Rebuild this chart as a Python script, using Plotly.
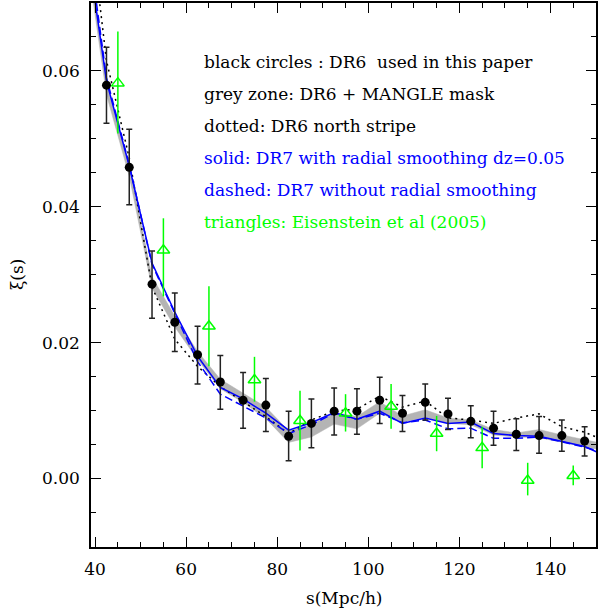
import plotly.graph_objects as go

# Separation bins (Mpc/h) for the DR6 / DR7 measurements
s_bins = [37.5, 42.5, 47.5, 52.5, 57.5, 62.5, 67.5, 72.5, 77.5, 82.5, 87.5, 92.5,
          97.5, 102.5, 107.5, 112.5, 117.5, 122.5, 127.5, 132.5, 137.5, 142.5,
          147.5, 152.5]

# DR6 + MANGLE mask: lower / upper edge of the grey zone
grey_lo = [0.0800, 0.0565, 0.0445, 0.0280, 0.0223, 0.0175, 0.0132, 0.0112, 0.0088,
           0.0053, 0.0061, 0.0080, 0.0073, 0.0096, 0.0082, 0.0090, 0.0081, 0.0079,
           0.0064, 0.0061, 0.0060, 0.0054, 0.0047, 0.0040]
grey_hi = [0.0830, 0.0585, 0.0462, 0.0297, 0.0239, 0.0187, 0.0146, 0.0126, 0.0105,
           0.0070, 0.0079, 0.0097, 0.0091, 0.0113, 0.0092, 0.0101, 0.0089, 0.0086,
           0.0072, 0.0067, 0.0072, 0.0064, 0.0057, 0.0050]

# DR6 north stripe (dotted)
xi_north = [0.0900, 0.0615, 0.0472, 0.0282, 0.0205, 0.0165, 0.0135, 0.0113, 0.0091,
            0.0066, 0.0086, 0.0099, 0.0102, 0.0121, 0.0105, 0.0114, 0.0089, 0.0086,
            0.0081, 0.0089, 0.0095, 0.0076, 0.0068, 0.0054]

# DR7 with radial smoothing dz=0.05 (solid)
xi_dr7_smooth = [0.0820, 0.0585, 0.0460, 0.0317, 0.0245, 0.0180, 0.0134, 0.0117,
                 0.0096, 0.0071, 0.0082, 0.0097, 0.0087, 0.0099, 0.0081, 0.0089,
                 0.0081, 0.0083, 0.0066, 0.0063, 0.0062, 0.0054, 0.0047, 0.0032]

# DR7 without radial smoothing (dashed)
xi_dr7_raw = [0.0840, 0.0590, 0.0462, 0.0315, 0.0243, 0.0172, 0.0124, 0.0106,
              0.0089, 0.0066, 0.0079, 0.0096, 0.0087, 0.0096, 0.0082, 0.0086,
              0.0073, 0.0074, 0.0059, 0.0059, 0.0061, 0.0054, 0.0046, 0.0036]

# DR6 points used in this paper (black circles) with error bar ends
s_dr6 = [42.5, 47.5, 52.5, 57.5, 62.5, 67.5, 72.5, 77.5, 82.5, 87.5, 92.5, 97.5,
         102.5, 107.5, 112.5, 117.5, 122.5, 127.5, 132.5, 137.5, 142.5, 147.5]
xi_dr6 = [0.0579, 0.0458, 0.0286, 0.0230, 0.0182, 0.0142, 0.0115, 0.0108, 0.0062,
          0.0081, 0.0099, 0.0099, 0.0115, 0.0096, 0.0112, 0.0095, 0.0084, 0.0074,
          0.0065, 0.0063, 0.0063, 0.0055]
xi_dr6_top = [0.0635, 0.0514, 0.0335, 0.0273, 0.0224, 0.0181, 0.0156, 0.0147, 0.0099,
              0.0117, 0.0133, 0.0132, 0.0149, 0.0122, 0.0139, 0.0118, 0.0107, 0.0099,
              0.0088, 0.0091, 0.0086, 0.0076]
xi_dr6_bot = [0.0523, 0.0403, 0.0236, 0.0187, 0.0139, 0.0102, 0.0074, 0.0069, 0.0026,
              0.0045, 0.0064, 0.0065, 0.0081, 0.0069, 0.0086, 0.0072, 0.0060, 0.0049,
              0.0041, 0.0037, 0.0040, 0.0033]

# Eisenstein et al (2005) (green triangles)
s_eis = [45, 55, 65, 75, 85, 95, 105, 115, 125, 135, 145]
xi_eis = [0.0582, 0.0336, 0.0224, 0.0145, 0.0085, 0.0096, 0.0106, 0.0066, 0.0045,
          -0.0003, 0.0004]
xi_eis_top = [0.0658, 0.0383, 0.0283, 0.0179, 0.0129, 0.0124, 0.0139, 0.0092, 0.0076,
              0.0023, 0.0019]
xi_eis_bot = [0.0508, 0.0268, 0.0165, 0.0113, 0.0041, 0.0069, 0.0073, 0.0040, 0.0015,
              -0.0025, -0.0010]

x_ticks = [40, 60, 80, 100, 120, 140]
y_ticks = [0.00, 0.02, 0.04, 0.06]
y_tick_text = ["0.00", "0.02", "0.04", "0.06"]

legend_lines = [
    ("black circles : DR6  used in this paper", "black"),
    ("grey zone: DR6 + MANGLE mask", "black"),
    ("dotted: DR6 north stripe", "black"),
    ("solid: DR7 with radial smoothing dz=0.05", "#0000ff"),
    ("dashed: DR7 without radial smoothing", "#0000ff"),
    ("triangles: Eisenstein et al (2005)", "#00ff00"),
]

FONT = "DejaVu Serif"

fig = go.Figure()

# grey zone as a closed polygon: upper edge forward, lower edge back
fig.add_trace(go.Scatter(
    x=s_bins + s_bins[::-1], y=grey_hi + grey_lo[::-1],
    fill="toself", fillcolor="#b4b4b4", line=dict(color="#b4b4b4", width=0.5),
    mode="lines", hoverinfo="skip"))

fig.add_trace(go.Scatter(x=s_bins, y=xi_north, mode="lines",
                         line=dict(color="black", width=1.5, dash="2px,4px")))
fig.add_trace(go.Scatter(x=s_bins, y=xi_dr7_raw, mode="lines",
                         line=dict(color="#0000ff", width=1.5, dash="8px,4px")))
fig.add_trace(go.Scatter(x=s_bins, y=xi_dr7_smooth, mode="lines",
                         line=dict(color="#0000ff", width=1.5)))

fig.add_trace(go.Scatter(
    x=s_dr6, y=xi_dr6, mode="markers",
    marker=dict(symbol="circle", size=9, color="black"),
    error_y=dict(type="data", symmetric=False,
                 array=[t - v for t, v in zip(xi_dr6_top, xi_dr6)],
                 arrayminus=[v - b for v, b in zip(xi_dr6, xi_dr6_bot)],
                 color="#222222", thickness=1.5, width=3)))

fig.add_trace(go.Scatter(
    x=s_eis, y=xi_eis, mode="markers",
    marker=dict(symbol="triangle-up-open", size=11, color="#00ff00",
                line=dict(width=1.5, color="#00ff00")),
    error_y=dict(type="data", symmetric=False,
                 array=[t - v for t, v in zip(xi_eis_top, xi_eis)],
                 arrayminus=[v - b for v, b in zip(xi_eis, xi_eis_bot)],
                 color="#00ff00", thickness=1.5, width=0)))

for i, (txt, col) in enumerate(legend_lines):
    fig.add_annotation(x=(202 - 91) / 507, y=(547 - (62 + 32 * i)) / 544,
                       xref="paper", yref="paper", xanchor="left", yanchor="middle",
                       text=txt, showarrow=False,
                       font=dict(family=FONT, size=17, color=col))

fig.add_annotation(x=0.5, y=(547 - 598) / 544, xref="paper", yref="paper",
                   xanchor="center", yanchor="middle", text="s(Mpc/h)",
                   showarrow=False, font=dict(family=FONT, size=17, color="black"))
fig.add_annotation(x=0, xshift=-74, y=0.5, xref="paper", yref="paper",
                   xanchor="center", yanchor="middle", text="ξ(s)", textangle=-90,
                   showarrow=False, font=dict(family=FONT, size=17, color="black"))

axis_common = dict(showgrid=False, zeroline=False, showline=True, linecolor="black",
                   linewidth=1.5, mirror="allticks", ticks="inside", ticklen=10,
                   tickwidth=1.2, tickcolor="black",
                   tickfont=dict(family=FONT, size=17, color="black"))

fig.update_xaxes(range=[39.1, 150], tickvals=x_ticks,
                 minor=dict(dtick=5, tick0=40, ticks="inside", ticklen=5,
                            tickwidth=1.2, tickcolor="black"),
                 ticklabelstandoff=6, **axis_common)
fig.update_yaxes(range=[-0.0101, 0.0700], tickvals=y_ticks, ticktext=y_tick_text,
                 minor=dict(dtick=0.005, tick0=0, ticks="inside", ticklen=5,
                            tickwidth=1.2, tickcolor="black"),
                 ticklabelstandoff=6, **axis_common)

fig.update_layout(width=599, height=609, autosize=False, showlegend=False,
                  margin=dict(l=91, r=1, t=3, b=62),
                  plot_bgcolor="white", paper_bgcolor="white")

fig.write_html("out.html")
